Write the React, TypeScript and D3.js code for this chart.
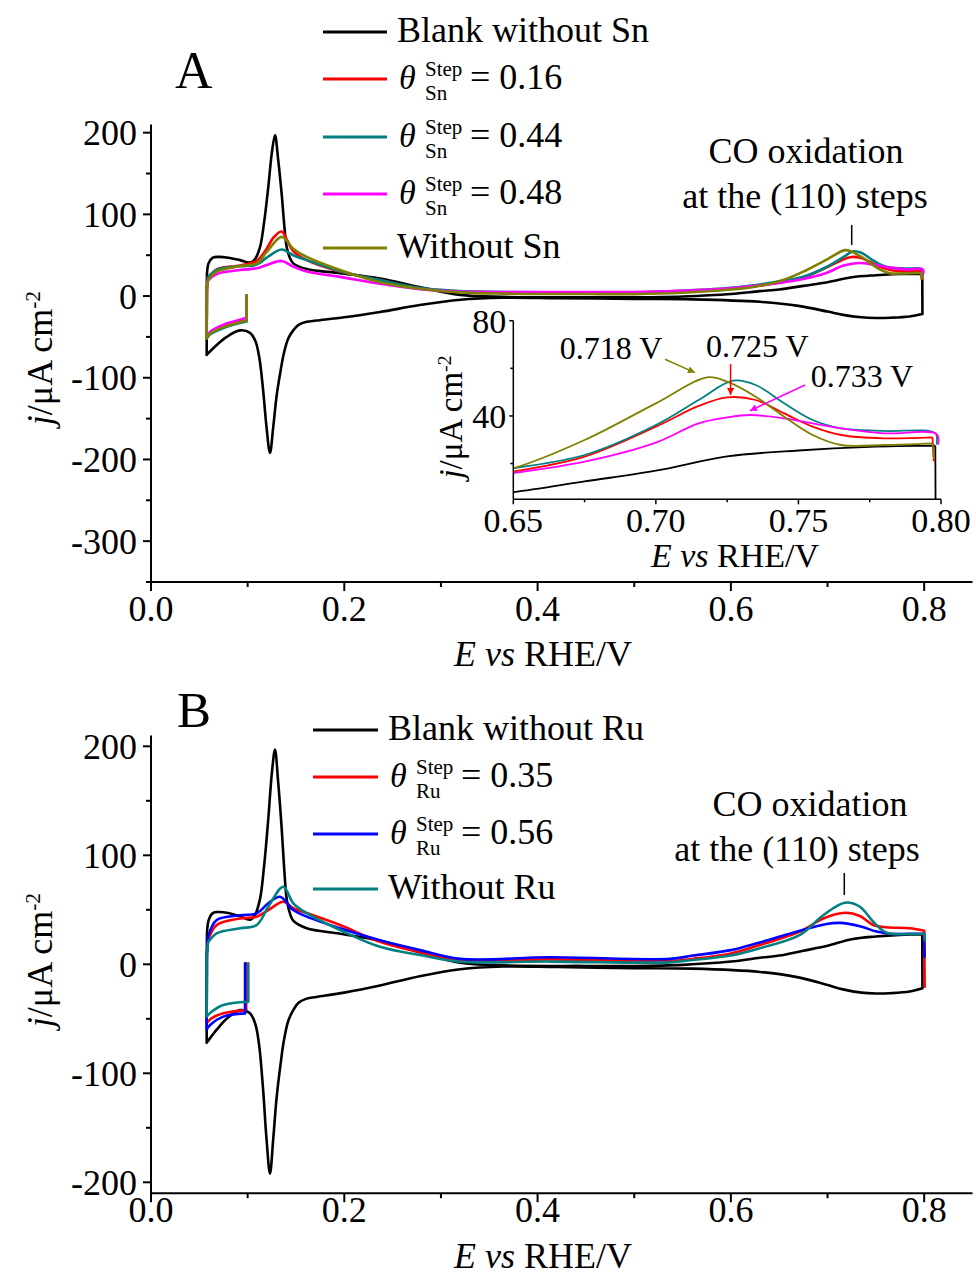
import React from 'react';
import * as d3 from 'd3';

type Pt = [number, number];

const FONT = "'Liberation Serif','Times New Roman',Times,serif";

// ---------- tick values ----------
const xTicksMain = [0, 0.2, 0.4, 0.6, 0.8];
const xMinorMain = [0.1, 0.3, 0.5, 0.7];
const yTicksA = [-300, -200, -100, 0, 100, 200];
const yMinorA = [-350, -250, -150, -50, 50, 150];
const yTicksB = [-200, -100, 0, 100, 200];
const yMinorB = [-150, -50, 50, 150];
const insetXTicks = [0.65, 0.7, 0.75, 0.8];
const insetXMinor = [0.675, 0.725, 0.775];
const insetYTicks = [40, 80];
const insetYMinor = [20, 60];

// ---------- data (E / V vs RHE, j / µA cm^-2) ----------
const blank: Pt[] = [
  [0.0576, -72], [0.0578, 20], [0.0595, 40], [0.064, 47], [0.07, 48], [0.08, 47], [0.092, 44],
  [0.1024, 41], [0.1075, 45], [0.1128, 60], [0.117, 90], [0.1214, 134], [0.125, 175], [0.1283, 197],
  [0.1315, 168], [0.1352, 125], [0.1378, 88], [0.1404, 60], [0.144, 46], [0.1472, 40], [0.1611, 33],
  [0.1956, 28], [0.2369, 21.5], [0.278, 11], [0.3197, 1.5], [0.364, -1], [0.45, -1.5], [0.5, -1.5],
  [0.55, -0.5], [0.6, 2.5], [0.63, 6], [0.65, 8], [0.675, 12.5], [0.7, 17], [0.725, 23], [0.75, 25.5],
  [0.775, 27], [0.798, 27.5],
  [0.7982, -22], [0.785, -25], [0.765, -26.5], [0.75, -26.8], [0.735, -26], [0.716, -23], [0.7, -19],
  [0.67, -12], [0.63, -7], [0.56, -4], [0.5, -3.5], [0.42, -2.5], [0.364, -2], [0.32, -4.5], [0.278, -11],
  [0.2369, -19.5], [0.2, -26], [0.171, -30], [0.1611, -31.5], [0.153, -35], [0.1472, -42], [0.142, -52],
  [0.1375, -70], [0.134, -92], [0.13, -122], [0.1265, -160], [0.1231, -192], [0.1195, -160], [0.116, -115],
  [0.112, -75], [0.108, -55], [0.1024, -45], [0.092, -42], [0.0783, -50], [0.068, -60], [0.0576, -72],
];

const sn016: Pt[] = [
  [0.099, 1], [0.099, -29], [0.092, -31.5], [0.075, -37.5], [0.061, -45.5], [0.0576, -51], [0.0578, 10],
  [0.059, 22], [0.068, 32.6], [0.0921, 37.5], [0.1093, 43], [0.1197, 58], [0.127, 72], [0.1352, 79],
  [0.141, 68], [0.1472, 55], [0.1611, 44], [0.1956, 30], [0.2369, 19.5], [0.278, 9.5], [0.3197, 5.3],
  [0.364, 4], [0.45, 4], [0.5, 4.5], [0.55, 6], [0.6, 9], [0.625, 12], [0.65, 16.6], [0.675, 22.9],
  [0.7, 35.5], [0.715, 44.2], [0.725, 47.8], [0.735, 46.7], [0.745, 41.1], [0.755, 35.5], [0.765, 32],
  [0.78, 30.6], [0.797, 31], [0.7975, 21],
];

const sn044: Pt[] = [
  [0.099, 1], [0.099, -31], [0.092, -33], [0.075, -39], [0.061, -47], [0.0576, -52], [0.0578, 10],
  [0.059, 23], [0.068, 32], [0.0921, 36.5], [0.1093, 38.5], [0.1197, 47], [0.1352, 57], [0.1472, 50],
  [0.1611, 44], [0.1956, 30.5], [0.2369, 19.5], [0.278, 10], [0.3197, 6], [0.364, 5], [0.45, 4.5],
  [0.5, 4.5], [0.55, 6.5], [0.6, 10], [0.637, 15.5], [0.65, 18], [0.675, 23.6], [0.7, 36.2], [0.715, 46.7],
  [0.727, 54.8], [0.735, 53], [0.745, 45.3], [0.755, 38.3], [0.765, 34.8], [0.78, 33.7], [0.798, 32.7],
  [0.7985, 28],
];

const sn048: Pt[] = [
  [0.099, 1], [0.099, -27], [0.092, -29], [0.075, -35], [0.061, -44], [0.0576, -50], [0.0578, 8],
  [0.059, 19], [0.068, 27], [0.0921, 31.8], [0.1093, 34], [0.1197, 38], [0.1352, 43], [0.1472, 36],
  [0.1611, 30], [0.1956, 23.5], [0.2369, 15], [0.278, 8.5], [0.3197, 5.5], [0.364, 5], [0.45, 5], [0.5, 5],
  [0.55, 6.5], [0.6, 9.5], [0.625, 12.5], [0.65, 16], [0.675, 20.8], [0.7, 28.8], [0.715, 36.9],
  [0.725, 39.4], [0.733, 40.4], [0.745, 39], [0.755, 36.9], [0.765, 34.8], [0.78, 32.7], [0.7985, 32.4],
  [0.799, 28],
];

const withoutSn: Pt[] = [
  [0.099, 1], [0.099, -30], [0.092, -32], [0.075, -38], [0.061, -46], [0.0576, -52], [0.0578, 8],
  [0.059, 19.5], [0.068, 29.8], [0.0921, 36.7], [0.1093, 40], [0.1197, 54], [0.1352, 72.5], [0.1472, 58],
  [0.1611, 48], [0.1956, 32], [0.2369, 17], [0.278, 9], [0.3197, 4.5], [0.364, 3], [0.45, 2.5], [0.5, 2.4],
  [0.55, 4], [0.6, 8], [0.625, 11.5], [0.65, 18], [0.675, 29.9], [0.7, 45.3], [0.718, 56.2], [0.725, 54.4],
  [0.735, 48.1], [0.745, 39.7], [0.755, 32], [0.765, 27.8], [0.78, 27.8], [0.797, 28.5], [0.7975, 22],
];

const ru035: Pt[] = [
  [0.0985, 1], [0.0985, -42], [0.0748, -45], [0.062, -50], [0.0576, -54], [0.0578, 10], [0.059, 22],
  [0.068, 36], [0.0921, 42], [0.1093, 43.6], [0.1214, 49.8], [0.1369, 57.4], [0.1472, 51.4], [0.1611, 47],
  [0.1956, 36], [0.2369, 20.7], [0.2783, 11], [0.3197, 3.5], [0.4128, 4.5], [0.5369, 3], [0.561, 5],
  [0.6, 10], [0.63, 17.7], [0.6715, 30], [0.6956, 42], [0.718, 47.3], [0.7335, 44.3], [0.7473, 36],
  [0.7611, 34], [0.7852, 33], [0.8, 30.8], [0.8005, -20.5],
];

const ru056: Pt[] = [
  [0.0973, 1], [0.0973, -45], [0.0748, -48], [0.062, -55], [0.0576, -59.6], [0.0578, 10], [0.059, 25],
  [0.068, 40.6], [0.0921, 45], [0.1093, 46.8], [0.1214, 56], [0.1335, 62], [0.1472, 49.8], [0.1611, 43.7],
  [0.1956, 33], [0.2369, 22], [0.2783, 13], [0.3197, 5], [0.4128, 6.4], [0.5369, 5], [0.561, 8], [0.6, 13],
  [0.63, 20], [0.6715, 30.8], [0.699, 37], [0.7128, 38], [0.7335, 35], [0.7507, 30], [0.768, 27.8],
  [0.785, 28], [0.8, 28], [0.8005, 7],
];

const withoutRu: Pt[] = [
  [0.1007, 1], [0.1007, -34.3], [0.0748, -37.3], [0.062, -44], [0.0576, -48], [0.0578, 8], [0.059, 20],
  [0.068, 28.4], [0.0921, 33], [0.1093, 36], [0.1214, 52.8], [0.1369, 71.2], [0.1472, 56], [0.1611, 47],
  [0.1956, 31.5], [0.2369, 16], [0.2783, 8.5], [0.3197, 2.4], [0.4128, 2.5], [0.5369, 1.8], [0.561, 4],
  [0.6, 8], [0.63, 14.7], [0.6715, 27], [0.6956, 45], [0.718, 56.5], [0.7335, 52.8], [0.7473, 39],
  [0.7611, 29], [0.7852, 27.8], [0.8, 28], [0.8005, 22],
];

// ---------- colours ----------
const BLACK = '#000000';
const RED = '#ff0000';
const TEAL = '#008080';
const MAGENTA = '#ff00ff';
const OLIVE = '#808000';
const BLUE = '#0000ff';

const seriesA = [
  { data: blank, color: BLACK },
  { data: sn016, color: RED },
  { data: sn044, color: TEAL },
  { data: sn048, color: MAGENTA },
  { data: withoutSn, color: OLIVE },
];
const seriesB = [
  { data: blank, color: BLACK },
  { data: ru035, color: RED },
  { data: ru056, color: BLUE },
  { data: withoutRu, color: TEAL },
];

const legendA = [
  { color: BLACK, text: 'Blank without Sn' },
  { color: RED, sub: 'Sn', value: '0.16' },
  { color: TEAL, sub: 'Sn', value: '0.44' },
  { color: MAGENTA, sub: 'Sn', value: '0.48' },
  { color: OLIVE, text: 'Without Sn' },
];
const legendB = [
  { color: BLACK, text: 'Blank without Ru' },
  { color: RED, sub: 'Ru', value: '0.35' },
  { color: BLUE, sub: 'Ru', value: '0.56' },
  { color: TEAL, text: 'Without Ru' },
];
const legendRowsA = [32, 79, 137, 194, 248];
const legendRowsB = [730, 777, 834, 889];

const fmt1 = d3.format('.1f');
const fmt2 = d3.format('.2f');

type Scale = d3.ScaleLinear<number, number>;

// split a sweep into smooth runs and straight potential-step (vertical) joins
function pieces(data: Pt[]): { pts: Pt[]; straight: boolean }[] {
  const out: { pts: Pt[]; straight: boolean }[] = [];
  let run: Pt[] = [data[0]];
  for (let i = 0; i < data.length - 1; i++) {
    const a = data[i], b = data[i + 1];
    const vertical = Math.abs(b[0] - a[0]) < 0.0012 && Math.abs(b[1] - a[1]) > 5;
    if (vertical) {
      if (run.length > 1) out.push({ pts: run, straight: false });
      out.push({ pts: [a, b], straight: true });
      run = [b];
    } else {
      run.push(b);
    }
  }
  if (run.length > 1) out.push({ pts: run, straight: false });
  return out;
}

function mkPath(x: Scale, y: Scale) {
  const smooth = d3.line<Pt>().x(d => x(d[0])).y(d => y(d[1])).curve(d3.curveCatmullRom.alpha(0.5));
  const straight = d3.line<Pt>().x(d => x(d[0])).y(d => y(d[1]));
  return (data: Pt[]) => pieces(data).map(p => (p.straight ? straight(p.pts) : smooth(p.pts)) || '').join(' ');
}

function MainAxes({ x, y, yMajor, yMinor, labelBase, yDomain }: { x: Scale; y: Scale; yMajor: number[]; yMinor: number[]; labelBase: number; yDomain: [number, number] }) {
  const x0 = x(0);
  const yBottom = y(yDomain[0]);
  const yTop = y(yDomain[1]);
  const xEnd = x(0.85);
  return (
    <g stroke={BLACK} strokeWidth={2} fontFamily={FONT}>
      <line x1={x0} x2={x0} y1={yTop} y2={yBottom} />
      <line x1={x0 - 1} x2={xEnd} y1={yBottom} y2={yBottom} />
      {yMajor.map(v => (
        <g key={'ym' + v}>
          <line x1={x0 - 8} x2={x0} y1={y(v)} y2={y(v)} />
          <text x={137} y={y(v)} dy="0.35em" textAnchor="end" fontSize={36} stroke="none" fill={BLACK}>{v}</text>
        </g>
      ))}
      {yMinor.map(v => <line key={'yn' + v} x1={x0 - 5} x2={x0} y1={y(v)} y2={y(v)} />)}
      {xTicksMain.map(v => (
        <g key={'xm' + v}>
          <line x1={x(v)} x2={x(v)} y1={yBottom} y2={yBottom + 9} />
          <text x={x(v)} y={labelBase} textAnchor="middle" fontSize={36} stroke="none" fill={BLACK}>{fmt1(v)}</text>
        </g>
      ))}
      {xMinorMain.map(v => <line key={'xn' + v} x1={x(v)} x2={x(v)} y1={yBottom} y2={yBottom + 5} />)}
    </g>
  );
}

function YLabel({ x, y, size }: { x: number; y: number; size: number }) {
  return (
    <text transform={`translate(${x},${y}) rotate(-90)`} textAnchor="middle" fontFamily={FONT} fontSize={size} fill={BLACK}>
      <tspan fontStyle="italic">j</tspan>
      <tspan>/μA cm</tspan>
      <tspan fontSize={size * 0.6} dy={-size * 0.33}>-2</tspan>
    </text>
  );
}

function XLabel({ x, y, size }: { x: number; y: number; size: number }) {
  return (
    <text x={x} y={y} textAnchor="middle" fontFamily={FONT} fontSize={size} fill={BLACK}>
      <tspan fontStyle="italic">E</tspan>
      <tspan> </tspan>
      <tspan fontStyle="italic">vs</tspan>
      <tspan> RHE/V</tspan>
    </text>
  );
}

function Legend({ items, rows, lx1, lx2, tx }: { items: any[]; rows: number[]; lx1: number; lx2: number; tx: number }) {
  return (
    <g fontFamily={FONT} fill={BLACK}>
      {items.map((it, i) => {
        const r = rows[i];
        return (
          <g key={i}>
            <line x1={lx1} x2={lx2} y1={r} y2={r} stroke={it.color} strokeWidth={3} />
            {it.text ? (
              <text x={tx} y={r + 10} fontSize={36}>{it.text}</text>
            ) : (
              <g>
                <text x={tx + 2} y={r + 10} fontSize={34} fontStyle="italic">θ</text>
                <text x={tx + 28} y={r - 3} fontSize={21}>Step</text>
                <text x={tx + 28} y={r + 21} fontSize={21}>{it.sub}</text>
                <text x={tx + 73} y={r + 10} fontSize={36}>= {it.value}</text>
              </g>
            )}
          </g>
        );
      })}
    </g>
  );
}

export default function App() {
  const xA = d3.scaleLinear().domain([0, 0.85]).range([151, 972.5]);
  const yA = d3.scaleLinear().domain([-350, 210]).range([582, 124.5]);
  const xB = d3.scaleLinear().domain([0, 0.85]).range([151, 972.5]);
  const yB = d3.scaleLinear().domain([-210, 210]).range([1193.2, 735.4]);
  const xI = d3.scaleLinear().domain([0.65, 0.8]).range([513.3, 941]);
  const yI = d3.scaleLinear().domain([5, 80]).range([499.3, 320.7]);

  const pathA = mkPath(xA, yA);
  const pathB = mkPath(xB, yB);
  const pathI = mkPath(xI, yI);

  const arrows = [
    { from: [0.7032, 63.8], to: [0.7137, 58.2], color: OLIVE, id: 'arO' },
    { from: [0.7262, 61.8], to: [0.7262, 48.8], color: RED, id: 'arR' },
    { from: [0.7523, 53], to: [0.733, 42.2], color: MAGENTA, id: 'arM' },
  ];
  const peakLabels = [
    { e: 0.6663, j: 63.8, t: '0.718 V' },
    { e: 0.7176, j: 64.9, t: '0.725 V' },
    { e: 0.7543, j: 52, t: '0.733 V' },
  ];

  return (
    <svg width={976} height={1275} style={{ position: 'absolute', left: 0, top: 0, background: '#fff' }}>
      <defs>
        <clipPath id="insetClip">
          <rect x={xI(0.65)} y={yI(80)} width={xI(0.8) - xI(0.65) + 1} height={yI(5) - yI(80)} />
        </clipPath>
        {arrows.map(a => (
          <marker key={a.id} id={a.id} viewBox="0 0 10 10" refX={10} refY={5} markerWidth={9} markerHeight={7} orient="auto" markerUnits="userSpaceOnUse">
            <path d="M0,0 L10,5 L0,10 z" fill={a.color} />
          </marker>
        ))}
      </defs>
      <rect x={0} y={0} width={976} height={1275} fill="#fff" />

      {/* ---------------- Panel A ---------------- */}
      <MainAxes x={xA} y={yA} yMajor={yTicksA} yMinor={yMinorA} labelBase={621} yDomain={[-350, 210]} />
      <g fill="none" strokeLinejoin="round" strokeLinecap="round">
        {seriesA.map((s, i) => (
          <path key={i} d={pathA(s.data)} stroke={s.color} strokeWidth={2.6} />
        ))}
      </g>
      <text x={175} y={88} fontFamily={FONT} fontSize={52} fill={BLACK}>A</text>
      <Legend items={legendA} rows={legendRowsA} lx1={323} lx2={387} tx={397} />
      <g fontFamily={FONT} fontSize={36} fill={BLACK} textAnchor="middle">
        <text x={806} y={163}>CO oxidation</text>
        <text x={805} y={208}>at the (110) steps</text>
      </g>
      <line x1={851.7} x2={851.7} y1={225} y2={245} stroke={BLACK} strokeWidth={1.5} />
      <YLabel x={52} y={358} size={36} />
      <XLabel x={543} y={666} size={36} />

      {/* ---------------- Inset ---------------- */}
      <g clipPath="url(#insetClip)" fill="none" strokeLinejoin="round">
        {seriesA.map((s, i) => (
          <path key={i} d={pathI(s.data)} stroke={s.color} strokeWidth={1.8} />
        ))}
      </g>
      <g stroke={BLACK} strokeWidth={1.5} fontFamily={FONT}>
        <line x1={xI(0.65)} x2={xI(0.65)} y1={yI(80)} y2={yI(5)} />
        <line x1={xI(0.65)} x2={xI(0.8)} y1={yI(5)} y2={yI(5)} />
        {insetYTicks.map(v => (
          <g key={'iy' + v}>
            <line x1={xI(0.65) - 4} x2={xI(0.65)} y1={yI(v)} y2={yI(v)} />
            <text x={xI(0.65) - 7} y={yI(v)} dy="0.35em" textAnchor="end" fontSize={34} stroke="none" fill={BLACK}>{v}</text>
          </g>
        ))}
        {insetYMinor.map(v => <line key={'iyn' + v} x1={xI(0.65) - 3} x2={xI(0.65)} y1={yI(v)} y2={yI(v)} />)}
        {insetXTicks.map(v => (
          <g key={'ix' + v}>
            <line x1={xI(v)} x2={xI(v)} y1={yI(5)} y2={yI(5) + 5} />
            <text x={xI(v)} y={531.5} textAnchor="middle" fontSize={34} stroke="none" fill={BLACK}>{fmt2(v)}</text>
          </g>
        ))}
        {insetXMinor.map(v => <line key={'ixn' + v} x1={xI(v)} x2={xI(v)} y1={yI(5)} y2={yI(5) + 3} />)}
      </g>
      <YLabel x={462} y={417} size={33} />
      <XLabel x={735} y={567} size={34} />
      <g fontFamily={FONT} fontSize={32} fill={BLACK}>
        {peakLabels.map(p => <text key={p.t} x={xI(p.e)} y={yI(p.j)}>{p.t}</text>)}
      </g>
      {arrows.map(a => (
        <line key={a.id} x1={xI(a.from[0])} y1={yI(a.from[1])} x2={xI(a.to[0])} y2={yI(a.to[1])} stroke={a.color} strokeWidth={1.5} markerEnd={`url(#${a.id})`} />
      ))}

      {/* ---------------- Panel B ---------------- */}
      <MainAxes x={xB} y={yB} yMajor={yTicksB} yMinor={yMinorB} labelBase={1222} yDomain={[-210, 210]} />
      <g fill="none" strokeLinejoin="round" strokeLinecap="round">
        {seriesB.map((s, i) => (
          <path key={i} d={pathB(s.data)} stroke={s.color} strokeWidth={2.6} />
        ))}
      </g>
      <text x={177} y={727} fontFamily={FONT} fontSize={51} fill={BLACK}>B</text>
      <Legend items={legendB} rows={legendRowsB} lx1={313} lx2={378} tx={388} />
      <g fontFamily={FONT} fontSize={36} fill={BLACK} textAnchor="middle">
        <text x={810} y={816}>CO oxidation</text>
        <text x={797} y={861}>at the (110) steps</text>
      </g>
      <line x1={844.3} x2={844.3} y1={873} y2={895} stroke={BLACK} strokeWidth={1.5} />
      <YLabel x={52} y={960} size={36} />
      <XLabel x={543} y={1268} size={36} />
    </svg>
  );
}
